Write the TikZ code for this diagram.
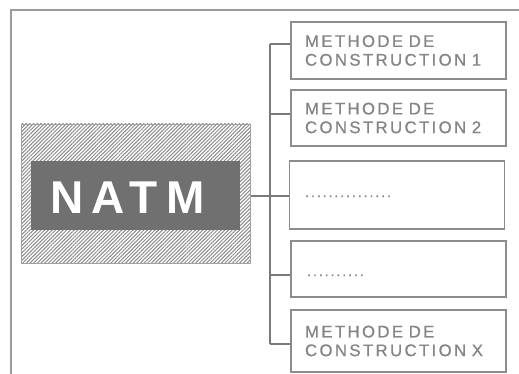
\documentclass[tikz,border=0pt]{standalone}
\usepackage{fontspec}
\setmainfont{Liberation Sans}
\newfontfamily\boxfont[LetterSpace=14,FakeBold=0.8]{Liberation Sans}
\newfontfamily\natmfont[LetterSpace=18]{Liberation Sans}
\usetikzlibrary{patterns.meta,calc}
\definecolor{framegray}{HTML}{9A9A9A}
\definecolor{boxgray}{HTML}{8C8C8C}
\definecolor{txtgray}{HTML}{858585}
\definecolor{linegray}{HTML}{7A7A7A}
\definecolor{darkfill}{HTML}{707070}
\definecolor{hatchgray}{HTML}{8A8A8A}
\tikzset{
  box/.style={draw=boxgray, line width=1.2pt, rectangle, minimum width=215pt,
    inner xsep=14pt, inner ysep=2pt, text width=187pt, align=left,
    text=txtgray, font=\boxfont\fontsize{16.8}{18.7}\selectfont},
  dotstext/.style={text=txtgray, font=\boxfont\fontsize{14}{16}\selectfont},
  conn/.style={draw=linegray, line width=1.2pt},
  hatchbox/.style={rectangle, draw=hatchgray!80, line width=0.6pt, fill=gray!18,
    pattern={Lines[angle=45,distance=2.6pt,line width=1pt]}, pattern color=hatchgray,
    minimum width=229pt, minimum height=139pt},
  natmbox/.style={rectangle, fill=darkfill, draw=none, minimum width=209pt,
    minimum height=69pt}
}
\begin{document}
\begin{tikzpicture}[x=1pt,y=-1pt]
\useasboundingbox (0,0) rectangle (519,374);
% outer frame (clipped by picture edges)
\draw[framegray, line width=1.2pt] (11,374) -- (11,10) -- (519,10);
% NATM
\node[hatchbox] (natm) at (135.5,193.5) {};
\node[natmbox] (natmin) at (135.5,195.5) {};
\node[anchor=base west, text=white, font=\natmfont\bfseries\fontsize{46}{50}\selectfont, inner sep=0pt] (natmtxt) at (50,213) {NATM};
% boxes
\node[box, minimum height=57pt] (b1) at (398.5,50.5) {METHODE DE\\CONSTRUCTION 1};
\node[box, minimum height=56pt] (b2) at (398.5,118) {METHODE DE\\CONSTRUCTION 2};
\node[box, minimum width=212pt, minimum height=68pt] (b3) at (397,195) {};
\node[box, minimum height=56pt] (b4) at (398.5,269) {};
\node[box, minimum height=62pt] (b5) at (398.5,341) {METHODE DE\\CONSTRUCTION X};
\node[dotstext, anchor=base west, inner sep=0pt] (d3) at (305,197) {...............};
\node[dotstext, anchor=base west, inner sep=0pt] (d4) at (307,276) {..........};
% connectors
\coordinate (j1) at (270,44);
\coordinate (j2) at (270,114);
\coordinate (j3) at (270,196);
\coordinate (j4) at (270,275);
\coordinate (j5) at (270,344);
\draw[conn] (j1) -- (j5);
\draw[conn] (j1) -- (j1 -| b1.west);
\draw[conn] (j2) -- (j2 -| b2.west);
\draw[conn] (j3) -- (j3 -| b3.west);
\draw[conn] (j4) -- (j4 -| b4.west);
\draw[conn] (j5) -- (j5 -| b5.west);
\draw[conn] (j3 -| natm.east) -- (j3);
\end{tikzpicture}
\end{document}
